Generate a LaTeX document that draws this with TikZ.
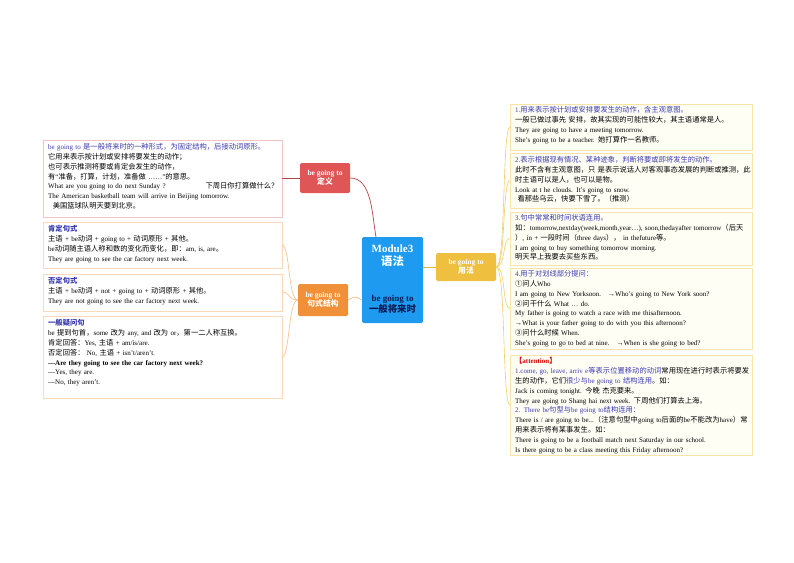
\documentclass[tikz,border=0pt]{standalone}
\usepackage{fontspec}
\setmainfont{Liberation Serif}
\newfontfamily\cjk[Scale=1.04]{Noto Sans CJK SC}
\XeTeXinterchartokenstate=1
\newXeTeXintercharclass\CJKcls
\newcount\myc
\def\setrange#1#2{\myc=#1\relax\loop\XeTeXcharclass\myc=\CJKcls\relax\ifnum\myc<#2\relax\advance\myc by 1\relax\repeat}
\setrange{"4E00}{"9FFF}
\setrange{"3000}{"303F}
\setrange{"FF00}{"FFEF}
\setrange{"2460}{"2473}
\XeTeXinterchartoks 0 \CJKcls = {\begingroup\cjk}
\XeTeXinterchartoks 4095 \CJKcls = {\begingroup\cjk}
\XeTeXinterchartoks \CJKcls 0 = {\endgroup}
\XeTeXinterchartoks \CJKcls 4095 = {\endgroup}
\XeTeXinterchartoks \CJKcls \CJKcls = {\hskip0pt plus 0.3pt\relax}
\usetikzlibrary{calc}
\definecolor{hblue}{HTML}{3A3AB0}
\definecolor{cred}{HTML}{E05555}
\definecolor{corange}{HTML}{F0913A}
\definecolor{cyellow}{HTML}{EFC040}
\definecolor{cblue}{HTML}{1E9BF0}
\definecolor{navy}{HTML}{0A1A50}
\newcommand{\hd}[1]{\textcolor{hblue}{#1}}
\tikzset{
 txt/.style={anchor=north west,inner sep=0pt,align=left,text width=232pt,font=\fontsize{7}{9.9}\selectfont},
 lbox/.style={draw=#1,line width=0.6pt,fill=white},
 topic/.style={rounded corners=1.5pt,text=white,align=center,font=\fontsize{7.5}{8.8}\selectfont\bfseries,inner sep=2pt},
}
\begin{document}
\begin{tikzpicture}[x=1pt,y=-1pt]
\useasboundingbox (0,0) rectangle (794,562);
% boxes
\draw[lbox=cred!35] (43,140) rectangle (282,217); \coordinate (d1) at (282,178);
\draw[lbox=corange!35] (43,222) rectangle (282,268); \coordinate (o1) at (282,245);
\draw[lbox=corange!35] (43,274) rectangle (282,311); \coordinate (o2) at (282,292);
\draw[lbox=corange!35] (43,316) rectangle (282,398); \coordinate (o3) at (282,357);
\foreach \a/\b/\n in {104/150/r1,153/208/r2,212/265/r3,268/349/r4,355/455/r5}{
 \draw[draw=cyellow!45,line width=0.6pt,fill=yellow!4] (510,\a) rectangle (752,\b);
 \coordinate (\n) at (510,{(\a+\b)/2});
}
% texts
\node[txt] at (48,143) {\hd{be going to 是一般将来时的一种形式，为固定结构，后接动词原形。}\\
它用来表示按计划或安排将要发生的动作；\\
也可表示推测将要或肯定会发生的动作，\\
有“准备，打算，计划，准备做 ……”的意思。\\
What are you going to do next Sunday ?\hspace{40pt}下周日你打算做什么？\\
The American basketball team will arrive in Beijing tomorrow.\\
\ \ 美国篮球队明天要到北京。};
\node[txt] at (48,225) {\hd{\textbf{肯定句式}}\\
主语 + be动词 + going to + 动词原形 + 其他。\\
be动词随主语人称和数的变化而变化，即：am, is, are。\\
They are going to see the car factory next week.};
\node[txt] at (48,277) {\hd{\textbf{否定句式}}\\
主语 + be动词 + not + going to + 动词原形 + 其他。\\
They are not going to see the car factory next week.};
\node[txt] at (48,319) {\hd{\textbf{一般疑问句}}\\
be 提到句首，some 改为 any, and 改为 or，第一二人称互换。\\
肯定回答：Yes, 主语 + am/is/are.\\
否定回答：\ No, 主语 + isn't/aren't.\\
\textbf{—Are they going to see the car factory next week?}\\
—Yes, they are.\\
—No, they aren't.};
\node[txt,text width=236pt] at (515,106) {\hd{1.用来表示按计划或安排要发生的动作，含主观意图。}\\
一般已做过事先 安排，故其实现的可能性较大，其主语通常是人。\\
They are going to have a meeting tomorrow.\\
She's going to be a teacher. 她打算作一名教师。};
\node[txt,text width=236pt] at (515,156) {\hd{2.表示根据现有情况、某种迹象，判断将要或即将发生的动作。}\\
此时不含有主观意图，只 是表示说话人对客观事态发展的判断或推测，此时主语可以是人，也可以是物。\\
Look at t he clouds. It's going to snow.\\
\ 看那些乌云，快要下雪了。（推测）};
\node[txt,text width=236pt] at (515,214) {\hd{3.句中常常和时间状语连用。}\\
如：tomorrow,nextday(week,month,year…), soon,thedayafter tomorrow（后天）, in + 一段时间（three days）， in thefuture等。\\
I am going to buy something tomorrow morning.\\
明天早上我要去买些东西。};
\node[txt,text width=236pt] at (515,270) {\hd{4.用于对划线部分提问：}\\
①问人Who\\
I am going to New Yorksoon.\quad →Who's going to New York soon?\\
②问干什么 What … do.\\
My father is going to watch a race with me thisafternoon.\\
→What is your father going to do with you this afternoon?\\
③问什么时候 When.\\
She's going to go to bed at nine.\quad →When is she going to bed?};
\node[txt,text width=236pt] at (515,357) {\textcolor{red!85!black}{\textbf{【attention】}}\\
\hd{1.come, go, leave, arriv e等表示位置移动的动词}常用现在进行时表示将要发生的动作，它们\hd{很少与be going to 结构连用}。如：\\
Jack is coming tonight. 今晚 杰克要来。\\
They are going to Shang hai next week. 下周他们打算去上海。\\
\hd{2. There be句型与be going to结构连用：}\\
There is / are going to be...（注意句型中going to后面的be不能改为have）常用来表示将有某事发生。如：\\
There is going to be a football match next Saturday in our school.\\
Is there going to be a class meeting this Friday afternoon?};
% topic nodes
\node[topic,fill=cblue,minimum width=61pt,minimum height=86pt] (c) at (392.5,280) {};
\node[text=white,font=\fontsize{11}{13}\selectfont\bfseries,align=center] at (392.5,256) {Module3\\语法};
\node[text=navy,font=\fontsize{9}{11}\selectfont\bfseries,align=center] at (392.5,304) {be going to\\一般将来时};
\node[topic,fill=cred,minimum width=50pt,minimum height=30pt] (dn) at (325,178) {be going to\\定义};
\node[topic,fill=corange,minimum width=50pt,minimum height=32pt] (on) at (323,300) {be going to\\句式结构};
\node[topic,fill=cyellow,minimum width=60pt,minimum height=28pt] (yn) at (466,267) {be going to\\用法};
% connectors
\draw[cred!80!black,line width=0.7pt] (dn.east) .. controls (372,178) and (372,215) .. (376,237);
\draw[cred!80!black,line width=0.7pt] (dn.west) -- (d1);
\draw[corange!70,line width=0.6pt] (c.west|-on.east) .. controls (355,296) .. (on.east);
\draw[corange!60,line width=0.6pt] (on.west) .. controls (288,300) and (290,245) .. (o1);
\draw[corange!60,line width=0.6pt] (on.west) .. controls (288,300) and (290,292) .. (o2);
\draw[corange!60,line width=0.6pt] (on.west) .. controls (288,300) and (290,357) .. (o3);
\draw[cyellow!80!brown,line width=0.6pt] (c.east|-yn.west) -- (yn.west);
\foreach \t/\yy in {r1/127,r2/180.5,r3/238.5,r4/308.5,r5/405}{
 \draw[cyellow!80,line width=0.6pt] (yn.east) .. controls (506,267) and (502,\yy) .. (\t) ;
}
\end{tikzpicture}
\end{document}
